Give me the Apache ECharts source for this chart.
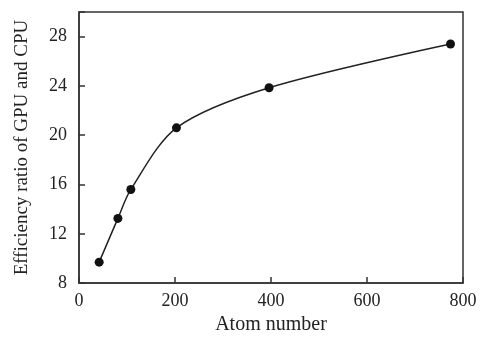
<!DOCTYPE html>
<html>
<head>
<meta charset="utf-8">
<script src="https://cdn.jsdelivr.net/npm/echarts@6/dist/echarts.min.js"></script>
<style>
  html, body { margin: 0; padding: 0; background: #fff; }
  #main { width: 480px; height: 340px; }
</style>
</head>
<body>
<div id="main"></div>
<script>
// atom number vs efficiency ratio
var atomNumber = [42, 81, 108, 203, 396, 774];
var effRatio = [9.7, 13.25, 15.6, 20.6, 23.85, 27.4];

var pts = atomNumber.map(function (x, i) { return [x, effRatio[i]]; });

var font = '"Liberation Serif", "Times New Roman", serif';
var chart = echarts.init(document.getElementById('main'));
chart.setOption({
    backgroundColor: '#fff',
    animation: false,
    grid: {
        left: 79, right: 17, top: 12, bottom: 53,
        show: true,
        borderColor: '#333',
        borderWidth: 1.5
    },
    xAxis: {
        type: 'value',
        min: 0, max: 800, interval: 200,
        name: 'Atom number',
        nameLocation: 'middle',
        nameGap: 31,
        nameTextStyle: { fontFamily: font, fontSize: 20, color: '#222' },
        axisLine: { show: true, lineStyle: { color: '#333', width: 1.5 } },
        axisTick: { show: true, inside: true, length: 6, lineStyle: { color: '#333', width: 1.5 } },
        axisLabel: { fontFamily: font, fontSize: 18, color: '#222', margin: 9 },
        splitLine: { show: false }
    },
    yAxis: {
        type: 'value',
        min: 8, max: 30,
        interval: 4,
        name: 'Efficiency ratio of GPU and CPU',
        nameLocation: 'middle',
        nameGap: 47,
        nameTextStyle: { fontFamily: font, fontSize: 19, color: '#222' },
        axisLine: { show: true, lineStyle: { color: '#333', width: 1.5 } },
        axisTick: { show: true, inside: true, length: 6, lineStyle: { color: '#333', width: 1.5 } },
        axisLabel: {
            fontFamily: font, fontSize: 18, color: '#222', margin: 12,
            formatter: function (v) { return v > 28 ? '' : v; }
        },
        splitLine: { show: false }
    },
    series: [{
        type: 'line',
        data: pts,
        smooth: 0.3,
        symbol: 'circle',
        symbolSize: 9,
        itemStyle: { color: '#111' },
        lineStyle: { color: '#222', width: 1.5 }
    }]
});
</script>
</body>
</html>
